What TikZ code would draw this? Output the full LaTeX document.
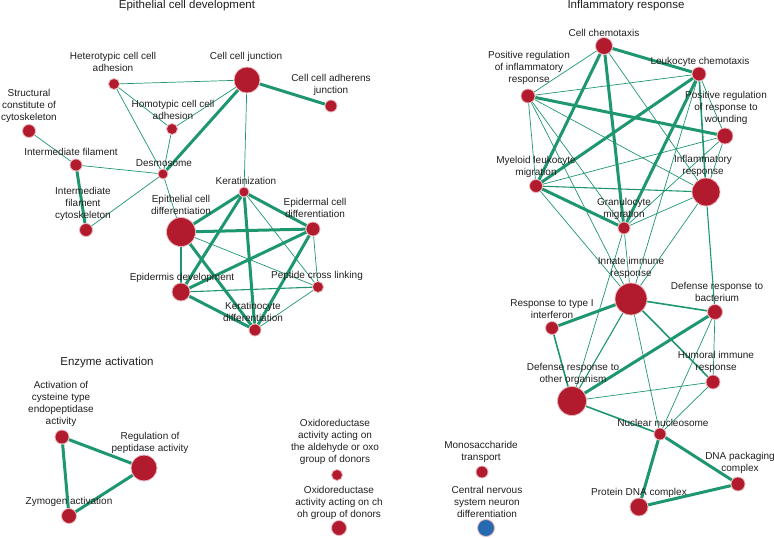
\documentclass[tikz,border=0pt]{standalone}
\usepackage{fontspec}
\setmainfont{Liberation Sans}
\usetikzlibrary{backgrounds}
\definecolor{termred}{RGB}{178,26,46}
\definecolor{termrim}{RGB}{234,182,186}
\definecolor{termblue}{RGB}{38,106,178}
\definecolor{linkgreen}{RGB}{30,150,112}
\tikzset{
  term/.style={circle, fill=termred, draw=termrim, line width=0.8pt, inner sep=0pt},
  lbl/.style={font=\fontsize{10}{11.8}\selectfont, align=center, inner sep=0pt, text=black!88},
  ttl/.style={font=\fontsize{11.5}{13}\selectfont, inner sep=0pt, text=black!88},
  thinlink/.style={draw=linkgreen, line width=0.7pt},
  midlink/.style={draw=linkgreen, line width=1.6pt},
  thicklink/.style={draw=linkgreen, line width=3pt},
}

\begin{document}
\begin{tikzpicture}[x=1pt,y=-1pt]
			%%%%% START %%%%%
			\useasboundingbox (0,0) rectangle (774,538);
			
			\node[ttl] (tepi) at (187,6) {Epithelial cell development};
			\node[ttl] (tinf) at (626,6) {Inflammatory response};
			\node[ttl] (tenz) at (107,363) {Enzyme activation};
			
			%%%%% EPITHELIAL %%%%%
			\node[term, minimum size=11pt] (hetad) at (114,84) {};
			\node[term, minimum size=26pt] (ccj) at (247,80) {};
			\node[term, minimum size=12pt] (ccadh) at (331,106) {};
			\node[term, minimum size=13pt] (struct) at (29,131) {};
			\node[term, minimum size=11pt] (homad) at (172,129) {};
			\node[term, minimum size=12pt] (intfil) at (76,165) {};
			\node[term, minimum size=10pt] (desmo) at (163,174) {};
			\node[term, minimum size=10pt] (kerat) at (244,192) {};
			\node[term, minimum size=13pt] (ifcyto) at (86,230) {};
			\node[term, minimum size=29pt] (ecdiff) at (181,232) {};
			\node[term, minimum size=14pt] (edcdiff) at (313,229) {};
			\node[term, minimum size=18pt] (epidev) at (181,292) {};
			\node[term, minimum size=11pt] (pepcl) at (318,287) {};
			\node[term, minimum size=12pt] (kcdiff) at (255,330) {};
			
			\node[lbl] (lhetad) at (113,62) {Heterotypic cell cell\\adhesion};
			\node[lbl] (lccj) at (246,57) {Cell cell junction};
			\node[lbl] (lccadh) at (331,85) {Cell cell adherens\\junction};
			\node[lbl] (lstruct) at (29,106) {Structural\\constitute of\\cytoskeleton};
			\node[lbl] (lhomad) at (173,110) {Homotypic cell cell\\adhesion};
			\node[lbl] (lintfil) at (71,152) {Intermediate filament};
			\node[lbl] (ldesmo) at (164,163) {Desmosome};
			\node[lbl] (lkerat) at (246,181) {Keratinization};
			\node[lbl] (lifcyto) at (83,204) {Intermediate\\filament\\cytoskeleton};
			\node[lbl] (lecdiff) at (181,205) {Epithelial cell\\differentiation};
			\node[lbl] (ledcdiff) at (315,208) {Epidermal cell\\differentiation};
			\node[lbl] (lepidev) at (182,278) {Epidermis development};
			\node[lbl] (lpepcl) at (317,276) {Peptide cross linking};
			\node[lbl] (lkcdiff) at (253,312) {Keratinocyte\\differentiation};
			
			%%%%% ENZYME %%%%%
			\node[term, minimum size=14pt] (actcys) at (62,437) {};
			\node[term, minimum size=26pt] (regpep) at (144,468) {};
			\node[term, minimum size=15pt] (zymact) at (69,516) {};
			\node[term, minimum size=11pt] (oxald) at (337,475) {};
			\node[term, minimum size=15pt] (oxchoh) at (339,528) {};
			\node[term, minimum size=12pt] (monotr) at (482,472) {};
			\node[circle, fill=termblue, draw=termrim, line width=0.8pt, inner sep=0pt, minimum size=17pt] (cnsdiff) at (486,528) {};
			
			\node[lbl] (lactcys) at (61,404) {Activation of\\cysteine type\\endopeptidase\\activity};
			\node[lbl] (lregpep) at (150,443) {Regulation of\\peptidase activity};
			\node[lbl] (lzymact) at (69,502) {Zymogen activation};
			\node[lbl] (loxald) at (335,442) {Oxidoreductase\\activity acting on\\the aldehyde or oxo\\group of donors};
			\node[lbl] (loxchoh) at (339,503) {Oxidoreductase\\activity acting on ch\\oh group of donors};
			\node[lbl] (lmonotr) at (481,452) {Monosaccharide\\transport};
			\node[lbl] (lcnsdiff) at (487,502) {Central nervous\\system neuron\\differentiation};
			
			%%%%% INFLAMMATORY %%%%%
			\node[term, minimum size=17pt] (cchemo) at (604,46) {};
			\node[term, minimum size=14pt] (preginf) at (528,96) {};
			\node[term, minimum size=14pt] (lchemo) at (699,74) {};
			\node[term, minimum size=16pt] (pregwnd) at (725,136) {};
			\node[term, minimum size=13pt] (myelmig) at (536,186) {};
			\node[term, minimum size=28pt] (inflam) at (706,192) {};
			\node[term, minimum size=12pt] (granmig) at (624,228) {};
			\node[term, minimum size=32pt] (innate) at (631,299) {};
			\node[term, minimum size=15pt] (defbact) at (715,312) {};
			\node[term, minimum size=13pt] (respifn) at (552,328) {};
			\node[term, minimum size=14pt] (humoral) at (713,382) {};
			\node[term, minimum size=29pt] (defother) at (572,401) {};
			\node[term, minimum size=12pt] (nucnuc) at (660,434) {};
			\node[term, minimum size=14pt] (dnapack) at (738,484) {};
			\node[term, minimum size=18pt] (protdna) at (639,507) {};
			
			\node[lbl] (lcchemo) at (604,33) {Cell chemotaxis};
			\node[lbl] (lpreginf) at (529,68) {Positive regulation\\of inflammatory\\response};
			\node[lbl] (llchemo) at (700,62) {Leukocyte chemotaxis};
			\node[lbl] (lpregwnd) at (726,108) {Positive regulation\\of response to\\wounding};
			\node[lbl] (lmyelmig) at (536,167) {Myeloid leukocyte\\migration};
			\node[lbl] (linflam) at (703,166) {Inflammatory\\response};
			\node[lbl] (lgranmig) at (624,209) {Granulocyte\\migration};
			\node[lbl] (linnate) at (631,268) {Innate immune\\response};
			\node[lbl] (ldefbact) at (717,292) {Defense response to\\bacterium};
			\node[lbl] (lrespifn) at (552,309) {Response to type I\\interferon};
			\node[lbl] (lhumoral) at (716,362) {Humoral immune\\response};
			\node[lbl] (ldefother) at (573,374) {Defense response to\\other organism};
			\node[lbl] (lnucnuc) at (663,423) {Nuclear nucleosome};
			\node[lbl] (ldnapack) at (740,463) {DNA packaging\\complex};
			\node[lbl] (lprotdna) at (639,493) {Protein DNA complex};
			
			\begin{scope}[on background layer]
			\draw[thinlink] (hetad) -- (ccj);
			\draw[thinlink] (hetad) -- (homad);
			\draw[thinlink] (hetad) -- (desmo);
			\draw[thinlink] (ccj) -- (homad);
			\draw[thinlink] (ccj) -- (kerat);
			\draw[thicklink] (ccj) -- (ccadh);
			\draw[thicklink] (ccj) -- (desmo);
			\draw[thinlink] (homad) -- (desmo);
			\draw[thinlink] (struct) -- (intfil);
			\draw[thinlink] (intfil) -- (desmo);
			\draw[thicklink] (intfil) -- (ifcyto);
			\draw[thinlink] (desmo) -- (ifcyto);
			\draw[thinlink] (desmo) -- (ecdiff);
			
			\draw[thicklink] (kerat) -- (ecdiff);
			\draw[thicklink] (kerat) -- (edcdiff);
			\draw[thicklink] (kerat) -- (epidev);
			\draw[thicklink] (kerat) -- (kcdiff);
			\draw[thinlink] (kerat) -- (pepcl);
			\draw[thicklink] (ecdiff) -- (edcdiff);
			\draw[midlink] (ecdiff) -- (epidev);
			\draw[thicklink] (ecdiff) -- (kcdiff);
			\draw[thinlink] (ecdiff) -- (pepcl);
			\draw[thicklink] (edcdiff) -- (epidev);
			\draw[thicklink] (edcdiff) -- (kcdiff);
			\draw[thinlink] (edcdiff) -- (pepcl);
			\draw[thinlink, line width=1.1pt] (epidev) -- (pepcl);
			\draw[thicklink] (epidev) -- (kcdiff);
			\draw[thinlink] (pepcl) -- (kcdiff);
			
			\draw[thicklink] (actcys) -- (regpep);
			\draw[thicklink] (actcys) -- (zymact);
			\draw[thicklink] (zymact) -- (regpep);
			
			\draw[thicklink] (cchemo) -- (lchemo);
			\draw[thicklink] (cchemo) -- (myelmig);
			\draw[thicklink] (cchemo) -- (granmig);
			\draw[thinlink] (cchemo) -- (preginf);
			\draw[thinlink] (cchemo) -- (inflam);
			\draw[thicklink] (lchemo) -- (myelmig);
			\draw[thicklink] (lchemo) -- (granmig);
			\draw[midlink] (lchemo) -- (inflam);
			\draw[thinlink] (lchemo) -- (preginf);
			\draw[thinlink] (lchemo) -- (pregwnd);
			\draw[thinlink] (lchemo) -- (innate);
			\draw[thicklink] (preginf) -- (pregwnd);
			\draw[thinlink] (preginf) -- (myelmig);
			\draw[thinlink] (preginf) -- (inflam);
			\draw[thinlink] (preginf) -- (granmig);
			\draw[thinlink] (preginf) -- (innate);
			\draw[thinlink] (pregwnd) -- (myelmig);
			\draw[thinlink] (pregwnd) -- (inflam);
			\draw[thinlink] (pregwnd) -- (granmig);
			\draw[thicklink] (myelmig) -- (granmig);
			\draw[thinlink, line width=1.1pt] (myelmig) -- (inflam);
			\draw[thinlink] (myelmig) -- (innate);
			\draw[thinlink] (granmig) -- (inflam);
			\draw[thinlink] (granmig) -- (innate);
			\draw[thinlink] (granmig) -- (defother);
			\draw[thinlink] (inflam) -- (innate);
			\draw[thinlink, line width=1.1pt] (inflam) -- (defbact);
			\draw[thicklink] (innate) -- (respifn);
			\draw[midlink] (innate) -- (defbact);
			\draw[midlink] (innate) -- (humoral);
			\draw[thinlink, line width=1.1pt] (innate) -- (defother);
			\draw[thinlink] (innate) -- (nucnuc);
			\draw[thicklink] (defbact) -- (defother);
			\draw[thinlink] (defbact) -- (humoral);
			\draw[thinlink] (defbact) -- (nucnuc);
			\draw[midlink] (respifn) -- (defother);
			\draw[thinlink] (humoral) -- (defother);
			\draw[thinlink] (humoral) -- (nucnuc);
			\draw[midlink] (defother) -- (nucnuc);
			\draw[thicklink] (nucnuc) -- (dnapack);
			\draw[thicklink] (nucnuc) -- (protdna);
			\draw[thicklink] (protdna) -- (dnapack);
			\end{scope}
			
			%%%%% END %%%%%
\end{tikzpicture}
\end{document}
